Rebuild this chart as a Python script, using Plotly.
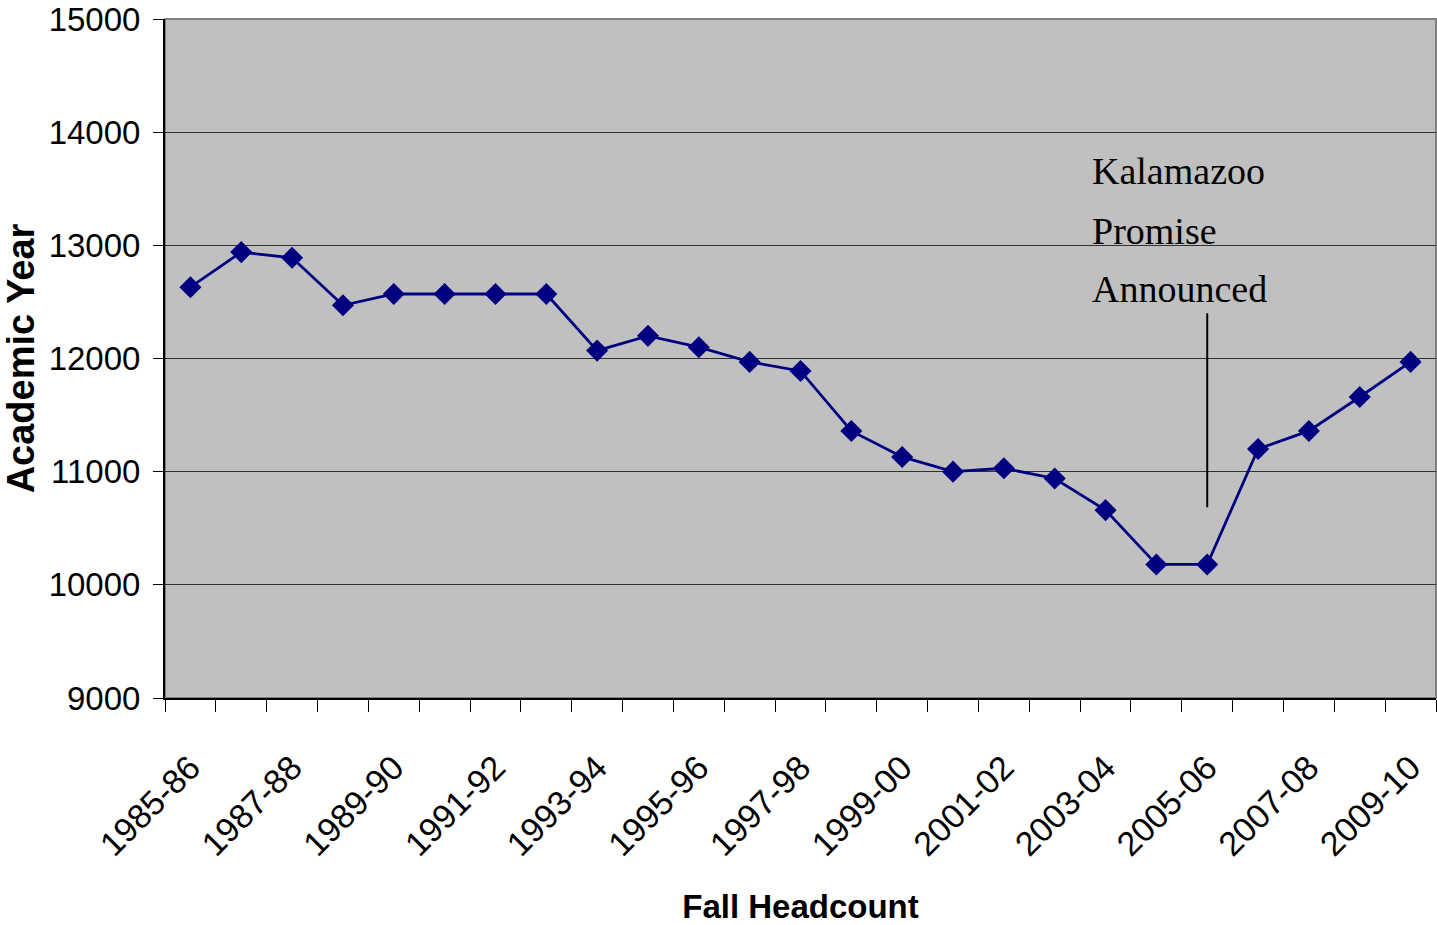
import plotly.graph_objects as go

years = ["1985-86", "1986-87", "1987-88", "1988-89", "1989-90", "1990-91", "1991-92",
         "1992-93", "1993-94", "1994-95", "1995-96", "1996-97", "1997-98", "1998-99",
         "1999-00", "2000-01", "2001-02", "2002-03", "2003-04", "2004-05", "2005-06",
         "2006-07", "2007-08", "2008-09", "2009-10"]
headcount = [12630, 12940, 12890, 12470, 12570, 12570, 12570, 12570, 12070, 12200,
             12100, 11970, 11890, 11360, 11130, 11000, 11030, 10940, 10660, 10180,
             10180, 11200, 11360, 11660, 11970]
tick_text = [y if i % 2 == 0 else "" for i, y in enumerate(years)]
note_lines = ["Kalamazoo", "Promise", "Announced"]
note_y = [13660, 13130, 12610]
marker_year_index = 20
marker_top, marker_bottom = 12400, 10685

navy = "#000080"
fig = go.Figure()
fig.add_trace(go.Scatter(
    x=years, y=headcount, mode="lines+markers",
    line=dict(color=navy, width=2.8),
    marker=dict(symbol="diamond", size=17, color=navy),
    showlegend=False, cliponaxis=False,
))

for txt, yy in zip(note_lines, note_y):
    fig.add_annotation(x=17.69, y=yy, xref="x", yref="y", text=txt, showarrow=False,
                       xanchor="left", yanchor="middle",
                       font=dict(family="Liberation Serif, Times New Roman, serif", size=38, color="black"))

fig.add_shape(type="line", xref="x", yref="y", x0=marker_year_index, x1=marker_year_index,
              y0=marker_bottom, y1=marker_top, line=dict(color="black", width=2))

# gray frame on top/right
fig.add_shape(type="rect", xref="paper", yref="paper", x0=0, x1=1, y0=0, y1=1,
              line=dict(color="#808080", width=2), layer="below")

fig.update_layout(
    width=1437, height=925,
    margin=dict(l=165, r=1, t=18, b=222),
    paper_bgcolor="white", plot_bgcolor="#C0C0C0",
    font=dict(family="Liberation Sans, Arial, sans-serif", color="black"),
)
fig.update_xaxes(
    type="category", tickmode="array", tickvals=years, ticktext=tick_text,
    tickson="boundaries", ticks="outside", ticklen=12, tickcolor="black", tickwidth=1,
    tickangle=-45, tickfont=dict(size=34), ticklabelstandoff=34,
    showline=True, linecolor="black", linewidth=2, showgrid=False,
    range=[-0.5, 24.5], ticklabeloverflow="allow",
    title=dict(text="<b>Fall Headcount</b>", font=dict(size=33), standoff=38),
)
fig.update_yaxes(
    range=[9000, 15000], dtick=1000, tickformat="d", ticks="outside", ticklen=10,
    tickcolor="black", tickfont=dict(size=33), ticklabelstandoff=6,
    ticklabeloverflow="allow",
    showline=True, linecolor="black", linewidth=2,
    showgrid=True, gridcolor="#303030", gridwidth=1, zeroline=False,
    title=dict(text="<b>Academic Year</b>", font=dict(size=38), standoff=8),
)

fig.write_html("out.html", config={"displayModeBar": False},
               post_script="document.body.style.margin='0';")
